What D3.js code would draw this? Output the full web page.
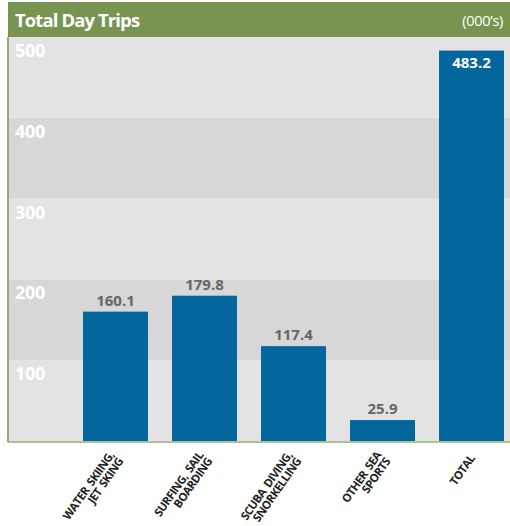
<!DOCTYPE html>
<html>
<head>
<meta charset="utf-8">
<script src="https://cdnjs.cloudflare.com/ajax/libs/d3/7.8.5/d3.min.js"></script>
<style>
  html, body { margin: 0; padding: 0; background: #fff; }
  svg { display: block; font-family: "Open Sans", "DejaVu Sans", sans-serif; }
</style>
</head>
<body>
<svg id="chart" width="510" height="526"></svg>
<script>
// Day trips by sea-sport activity, thousands
const categories = [
  ["WATER SKIING,", "JET SKING"],
  ["SURFING, SAIL", "BOARDING"],
  ["SCUBA DIVING,", "SNORKELLING"],
  ["OTHER SEA", "SPORTS"],
  ["TOTAL"]
];
const values = [160.1, 179.8, 117.4, 25.9, 483.2];
const yTicks = [100, 200, 300, 400, 500];
const titleText = "Total Day Trips";
const unitText = "(000\u2019s)";

const svg = d3.select("#chart");
const W = 510;
const plot = { left: 8, right: 510, top: 37, bottom: 441 };

const green = "#779550";
const barColor = "#03669c";

const y = d3.scaleLinear().domain([0, 500]).range([plot.bottom, plot.top]);
const x = d3.scaleBand()
  .domain(d3.range(values.length))
  .range([77, 510])
  .paddingInner(0.27)
  .paddingOuter(0.0674);

// Header strip
svg.append("rect")
  .attr("x", 8).attr("y", 2).attr("width", W - 8).attr("height", plot.top - 2)
  .attr("fill", green);
svg.append("text")
  .attr("x", 15).attr("y", 27)
  .attr("fill", "#fff").attr("font-weight", 700).attr("font-size", 18.5)
  .attr("letter-spacing", -0.9)
  .text(titleText);
svg.append("text")
  .attr("x", 503).attr("y", 26)
  .attr("text-anchor", "end")
  .attr("fill", "#fff").attr("font-size", 14.5)
  .attr("letter-spacing", -0.3)
  .text(unitText);

// Alternating horizontal bands, one per 100
const bands = yTicks.map(t => [t - 100, t]);
svg.append("g").selectAll("rect").data(bands).join("rect")
  .attr("x", plot.left).attr("width", plot.right - plot.left)
  .attr("y", d => y(d[1])).attr("height", d => y(d[0]) - y(d[1]))
  .attr("fill", (d, i) => i % 2 === 0 ? "#e3e3e3" : "#d7d7d7");

// Y tick labels sit just under their value line
svg.append("g").selectAll("text").data(yTicks).join("text")
  .attr("x", 15).attr("y", d => y(d) + 20)
  .attr("fill", "#fff").attr("font-weight", 700).attr("font-size", 18)
  .attr("letter-spacing", -0.3)
  .text(d => d);

// Bars
svg.append("g").selectAll("rect").data(values).join("rect")
  .attr("x", (d, i) => x(i)).attr("width", x.bandwidth())
  .attr("y", d => y(d)).attr("height", d => y(0) - y(d))
  .attr("fill", barColor);

// Value labels: above the bar, or inside when the bar reaches the top
svg.append("g").selectAll("text").data(values).join("text")
  .attr("x", (d, i) => x(i) + x.bandwidth() / 2)
  .attr("y", d => d > 450 ? y(d) + 17 : y(d) - 6)
  .attr("text-anchor", "middle")
  .attr("font-weight", 700).attr("font-size", 15)
  .attr("fill", d => d > 450 ? "#fff" : "#666")
  .text(d => d.toFixed(1));

// Left and bottom frame lines
svg.append("line")
  .attr("x1", plot.left).attr("x2", plot.left)
  .attr("y1", plot.top).attr("y2", plot.bottom + 1)
  .attr("stroke", "#93ab73").attr("stroke-width", 2);
svg.append("line")
  .attr("x1", plot.left).attr("x2", W)
  .attr("y1", plot.bottom + 1).attr("y2", plot.bottom + 1)
  .attr("stroke", "#93ab73").attr("stroke-width", 1.5);

// Rotated category labels
const lh = 11;
const cat = svg.append("g").selectAll("g").data(categories).join("g")
  .attr("transform", (d, i) =>
    `translate(${x(i) + x.bandwidth() / 2 + 0.5},${plot.bottom + 15}) rotate(-55)`);
cat.each(function(lines) {
  const g = d3.select(this);
  lines.forEach((line, k) => {
    g.append("text")
      .attr("x", 0)
      .attr("y", (k - (lines.length - 1) / 2) * lh)
      .attr("dy", "0.35em")
      .attr("text-anchor", "end")
      .attr("font-weight", 700).attr("font-size", 11.5)
      .attr("fill", "#222")
      .attr("letter-spacing", -0.55)
      .attr("word-spacing", 2)
      .text(line);
  });
});
</script>
</body>
</html>
